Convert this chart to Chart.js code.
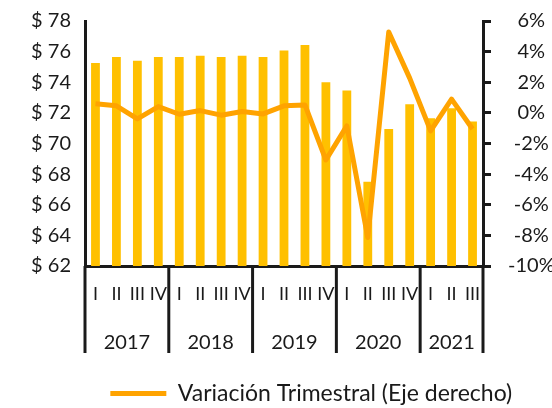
<!DOCTYPE html>
<html>
<head>
<meta charset="utf-8">
<script src="https://cdn.jsdelivr.net/npm/chart.js@4"></script>
<style>
  html, body { margin: 0; padding: 0; background: #fff; }
  #wrap { width: 552px; height: 408px; }
</style>
</head>
<body>
<div id="wrap"><canvas id="c" width="552" height="408"></canvas></div>
<script>
const quarters = ['I','II','III','IV','I','II','III','IV','I','II','III','IV','I','II','III','IV','I','II','III'];
const years = ['2017', '2018', '2019', '2020', '2021'];
const quartersPerYear = [4, 4, 4, 4, 3];
const precio = [75.25, 75.65, 75.4, 75.65, 75.65, 75.73, 75.65, 75.73, 75.65, 76.07, 76.44, 74.0, 73.46, 67.5, 70.95, 72.57, 71.65, 72.3, 71.43];
const variacion = [0.59, 0.46, -0.39, 0.41, -0.09, 0.15, -0.15, 0.09, -0.07, 0.46, 0.52, -3.08, -0.85, -8.14, 5.28, 2.27, -1.18, 0.9, -1.05];
const leftTicks = [62, 64, 66, 68, 70, 72, 74, 76, 78];
const rightTicks = [-10, -8, -6, -4, -2, 0, 2, 4, 6];

const FONT = 'Lato';
const INK = '#1a1a1a';

// year labels + separators under the quarter labels
const yearGroups = {
  id: 'yearGroups',
  afterDraw(chart) {
    const ctx = chart.ctx;
    const area = chart.chartArea;
    const step = (area.right - area.left) / quarters.length;
    const y0 = area.bottom;
    const y1 = area.bottom + 87;
    ctx.save();
    ctx.strokeStyle = INK;
    ctx.lineWidth = 3;
    let idx = 0;
    const edges = [area.left];
    quartersPerYear.forEach(n => { idx += n; edges.push(area.left + idx * step); });
    edges.forEach(px => {
      ctx.beginPath();
      ctx.moveTo(px, y0);
      ctx.lineTo(px, y1);
      ctx.stroke();
    });
    ctx.fillStyle = INK;
    ctx.font = '20px ' + FONT;
    ctx.textAlign = 'center';
    ctx.textBaseline = 'middle';
    years.forEach((yr, i) => {
      ctx.fillText(yr, (edges[i] + edges[i + 1]) / 2, area.bottom + 77);
    });
    ctx.restore();
  }
};

// vertical axes: no extra label padding, keep plot area fixed
function noPad(s) {
  s.paddingTop = 0;
  s.paddingBottom = 0;
}

new Chart(document.getElementById('c'), {
  data: {
    labels: quarters,
    datasets: [
      {
        type: 'bar',
        label: '',
        data: precio,
        yAxisID: 'y',
        backgroundColor: '#FFC000',
        barPercentage: 0.42,
        categoryPercentage: 1,
        order: 1
      },
      {
        type: 'line',
        label: 'Variación Trimestral (Eje derecho)',
        data: variacion,
        yAxisID: 'y2',
        borderColor: '#FFA300',
        backgroundColor: '#FFA300',
        borderWidth: 5,
        pointRadius: 0,
        tension: 0,
        borderJoinStyle: 'round',
        order: 0
      }
    ]
  },
  options: {
    responsive: false,
    animation: false,
    layout: { padding: { top: 21, left: 0, right: 0, bottom: -7 } },
    plugins: {
      tooltip: { enabled: false },
      legend: {
        position: 'bottom',
        labels: {
          color: INK,
          font: { family: FONT, size: 23 },
          usePointStyle: true,
          pointStyle: 'line',
          pointStyleWidth: 56,
          padding: 3,
          sort: (a, b) => a.datasetIndex - b.datasetIndex,
          generateLabels(chart) {
            const items = Chart.defaults.plugins.legend.labels.generateLabels(chart);
            items.forEach(it => {
              if (it.datasetIndex === 0) {
                it.text = '';
                it.fillStyle = 'rgba(0,0,0,0)';
                it.strokeStyle = 'rgba(0,0,0,0)';
                it.lineWidth = 0;
              }
            });
            return items;
          }
        },
        onClick: null
      }
    },
    scales: {
      x: {
        grid: { display: false },
        border: { color: INK, width: 3 },
        ticks: { color: INK, font: { family: FONT, size: 18 }, maxRotation: 0, autoSkip: false, padding: 9 },
        afterFit(s) { s.height = 113; }
      },
      y: {
        position: 'left',
        min: 62, max: 78,
        afterBuildTicks(s) { s.ticks = leftTicks.map(v => ({ value: v })); },
        grid: { display: false, drawTicks: false },
        border: { color: INK, width: 3 },
        ticks: { color: INK, font: { family: FONT, size: 20 }, padding: 14, callback: v => '$ ' + v },
        afterFit(s) { s.width = 85; noPad(s); }
      },
      y2: {
        position: 'right',
        min: -10, max: 6,
        afterBuildTicks(s) { s.ticks = rightTicks.map(v => ({ value: v })); },
        grid: { drawOnChartArea: false, color: INK, lineWidth: 3, tickLength: 8 },
        border: { color: INK, width: 3 },
        ticks: { color: INK, font: { family: FONT, size: 20 }, padding: 17, crossAlign: 'center', callback: v => v + '%' },
        afterFit(s) { s.width = 69; noPad(s); }
      }
    }
  },
  plugins: [yearGroups]
});
</script>
</body>
</html>
